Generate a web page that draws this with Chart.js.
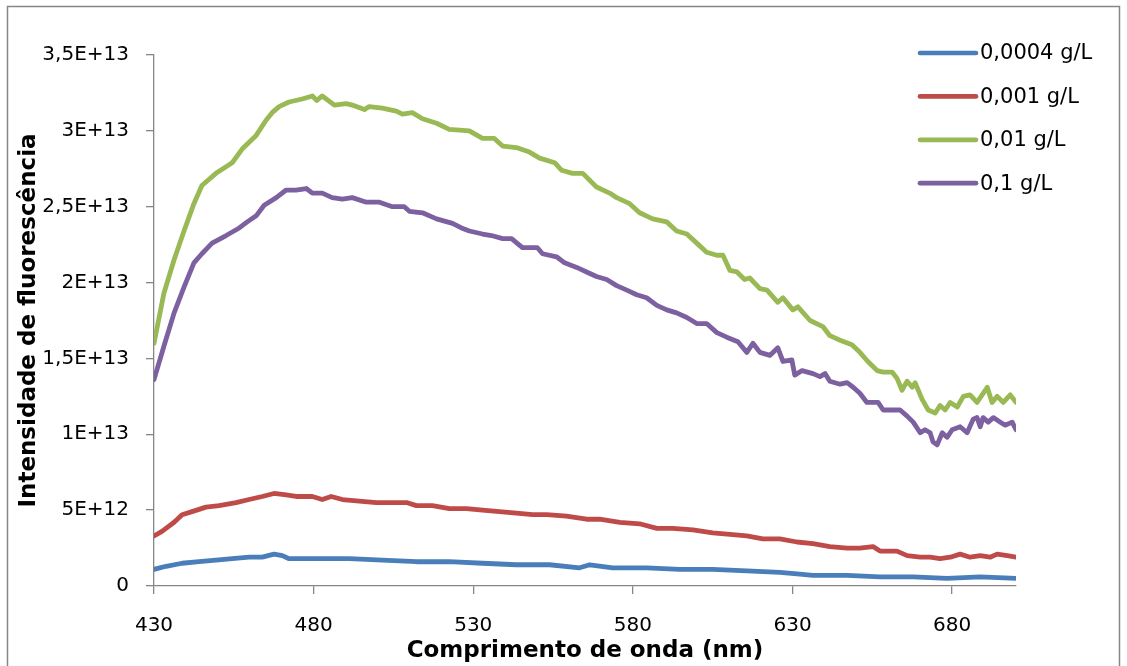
<!DOCTYPE html>
<html>
<head>
<meta charset="utf-8">
<script src="https://cdn.jsdelivr.net/npm/chart.js@4.4.1/dist/chart.umd.min.js"></script>
<style>
  html, body { margin: 0; padding: 0; background: #ffffff; }
  #wrap { width: 1127px; height: 666px; }
</style>
</head>
<body>
<div id="wrap"><canvas id="c" width="1127" height="666"></canvas></div>
<script>
// Fluorescence emission spectra at four concentrations.
// Intensities are stored in units of 1E+13.
const SCALE = 1e13;

const seriesNames = ['0,0004 g/L', '0,001 g/L', '0,01 g/L', '0,1 g/L'];
const seriesColors = ['#4A7EBB', '#BE4B48', '#98B954', '#7D60A0'];

// 0,0004 g/L
const wlA = [430, 433.8, 438.8, 444.1, 449.4, 454.5, 459.8, 463.9, 467.6, 470.2, 472.3, 478.6, 484, 491.2,
  501.5, 512.2, 522.5, 532.9, 543.5, 553.9, 563.3, 566.5, 573.7, 584.3, 594.7, 605, 615.7, 626, 631.4,
  636.4, 647.1, 657.4, 667.8, 678.4, 688.8, 700];
const valA = [0.11, 0.13, 0.15, 0.16, 0.17, 0.18, 0.19, 0.19, 0.21, 0.20, 0.18, 0.18, 0.18, 0.18,
  0.17, 0.16, 0.16, 0.15, 0.14, 0.14, 0.12, 0.14, 0.12, 0.12, 0.11, 0.11, 0.10, 0.09, 0.08,
  0.07, 0.07, 0.06, 0.06, 0.05, 0.06, 0.05];

// 0,001 g/L
const wlB = [430, 432.5, 436.3, 438.8, 441.9, 446.3, 450.4, 455.7, 459.8, 463.9, 467.6, 471.4, 474.5, 479.6,
  482.7, 485.5, 489, 494.3, 499.6, 503.7, 509.1, 512.2, 517.2, 522.5, 527.9, 532.9, 538.2, 543.5, 548.6,
  553, 559.2, 565.5, 569.6, 575.9, 582.1, 587.5, 592.5, 598.8, 605, 610.4, 615.7, 620.7, 626, 631.4,
  636.4, 641.7, 647.1, 651.1, 655.2, 657.4, 662.7, 665.9, 670, 673.1, 676.2, 679.4, 682.5, 685.6,
  688.8, 691.9, 694.1, 697.3, 700];
const valB = [0.33, 0.36, 0.42, 0.47, 0.49, 0.52, 0.53, 0.55, 0.57, 0.59, 0.61, 0.60, 0.59, 0.59,
  0.57, 0.59, 0.57, 0.56, 0.55, 0.55, 0.55, 0.53, 0.53, 0.51, 0.51, 0.50, 0.49, 0.48, 0.47,
  0.47, 0.46, 0.44, 0.44, 0.42, 0.41, 0.38, 0.38, 0.37, 0.35, 0.34, 0.33, 0.31, 0.31, 0.29,
  0.28, 0.26, 0.25, 0.25, 0.26, 0.23, 0.23, 0.20, 0.19, 0.19, 0.18, 0.19, 0.21, 0.19,
  0.20, 0.19, 0.21, 0.20, 0.19];

// 0,01 g/L
const wlC = [430, 433.1, 436.3, 439.4, 442.5, 445, 449.4, 454.5, 457.6, 462, 465.1, 467, 469.2, 472.3,
  476.4, 479.6, 481, 482.7, 486.5, 490.2, 492.1, 495.9, 497.4, 501.5, 505.9, 507.8, 510.9, 514.1,
  518.5, 522.5, 528.8, 532.9, 536.6, 539.2, 543.5, 547.6, 550.8, 555.5, 557.7, 561.1, 564.3, 568.6,
  572.7, 574.9, 579, 582.1, 586.2, 590.6, 593.7, 596.9, 600, 603.1, 606.3, 608.2, 610.4, 612.6,
  615, 616.6, 619.8, 622, 625.4, 627, 630.1, 631.7, 635.5, 639.5, 641.7, 644.9, 648.6, 651.1,
  653.6, 656.5, 658.4, 661.2, 662.7, 664.3, 665.9, 667.5, 668.4, 670.6, 672.5, 674.7, 676.2,
  677.8, 679.4, 681.6, 683.5, 685.6, 687.8, 689.4, 691, 692.5, 694.1, 696, 698.2, 700];
const valC = [1.60, 1.93, 2.15, 2.34, 2.52, 2.64, 2.72, 2.79, 2.88, 2.97, 3.07, 3.12, 3.16, 3.19,
  3.21, 3.23, 3.20, 3.23, 3.17, 3.18, 3.17, 3.14, 3.16, 3.15, 3.13, 3.11, 3.12, 3.08,
  3.05, 3.01, 3.00, 2.95, 2.95, 2.90, 2.89, 2.86, 2.82, 2.79, 2.74, 2.72, 2.72, 2.63,
  2.59, 2.56, 2.52, 2.46, 2.42, 2.40, 2.34, 2.32, 2.26, 2.20, 2.18, 2.18, 2.08, 2.07,
  2.02, 2.03, 1.96, 1.95, 1.87, 1.90, 1.82, 1.84, 1.75, 1.71, 1.65, 1.62, 1.59, 1.54,
  1.48, 1.42, 1.41, 1.41, 1.37, 1.29, 1.35, 1.31, 1.34, 1.23, 1.16, 1.14, 1.19,
  1.16, 1.21, 1.18, 1.25, 1.26, 1.21, 1.26, 1.31, 1.21, 1.25, 1.21, 1.26, 1.21];

// 0,1 g/L
const wlD = [430, 433.1, 436.3, 439.4, 442.5, 445, 448.2, 452.6, 456.7, 459.2, 462, 464.5, 468.3, 471.4,
  474.5, 477.7, 479.6, 482.7, 485.8, 489, 492.1, 496.5, 500.6, 504.7, 508.4, 510, 514.1, 518.5,
  523.5, 526.3, 528.8, 532.9, 535.7, 539.2, 542, 545.4, 550.1, 551.7, 556.1, 558.6, 562.4, 565.5,
  568.6, 571.8, 574.9, 578.1, 581.2, 584.3, 587.5, 590.6, 593.7, 596.9, 600, 603.1, 606.3, 609.4,
  612.9, 615.7, 617.6, 619.8, 622.9, 625.4, 627, 629.8, 630.7, 633, 636.4, 638.6, 640.2, 641.7,
  644.9, 647.1, 649, 651.1, 653.3, 655.2, 656.8, 658.4, 661.5, 663.7, 665.9, 667.8, 670, 671.5,
  673.1, 674, 675.3, 676.9, 678.4, 680, 682.5, 684.7, 686.6, 687.8, 688.8, 689.7, 691.3, 692.9,
  695.1, 696.6, 698.8, 700];
const valD = [1.36, 1.58, 1.80, 1.97, 2.13, 2.19, 2.26, 2.31, 2.36, 2.40, 2.44, 2.51, 2.56, 2.61,
  2.61, 2.62, 2.59, 2.59, 2.56, 2.55, 2.56, 2.53, 2.53, 2.50, 2.50, 2.47, 2.46, 2.42,
  2.39, 2.36, 2.34, 2.32, 2.31, 2.29, 2.29, 2.23, 2.23, 2.19, 2.17, 2.13, 2.10, 2.07,
  2.04, 2.02, 1.98, 1.95, 1.92, 1.90, 1.85, 1.82, 1.80, 1.77, 1.73, 1.73, 1.67, 1.64,
  1.61, 1.54, 1.60, 1.54, 1.52, 1.57, 1.48, 1.49, 1.39, 1.42, 1.40, 1.38, 1.40, 1.35,
  1.33, 1.34, 1.31, 1.27, 1.21, 1.21, 1.21, 1.16, 1.16, 1.16, 1.12, 1.08, 1.01, 1.03,
  1.01, 0.95, 0.93, 1.01, 0.98, 1.03, 1.05, 1.01, 1.10, 1.11, 1.05, 1.11, 1.08, 1.11,
  1.08, 1.06, 1.08, 1.03];

const xTicks = [430, 480, 530, 580, 630, 680];
const yTicks = [0, 5e12, 1e13, 1.5e13, 2e13, 2.5e13, 3e13, 3.5e13];
const yTickLabels = ['0', '5E+12', '1E+13', '1,5E+13', '2E+13', '2,5E+13', '3E+13', '3,5E+13'];

const xTitle = 'Comprimento de onda (nm)';
const yTitle = 'Intensidade de fluorescência';

const wavelengths = [wlA, wlB, wlC, wlD];
const intensities = [valA, valB, valC, valD];

const AXIS_GREY = '#868686';
const TICK_FONT = { family: 'DejaVu Sans', size: 20 };
const TITLE_FONT = { family: 'DejaVu Sans', size: 23, weight: 'bold' };

const datasets = seriesNames.map((name, k) => ({
  label: name,
  data: wavelengths[k].map((x, i) => ({ x: x, y: intensities[k][i] * SCALE })),
  borderColor: seriesColors[k],
  backgroundColor: seriesColors[k],
  borderWidth: 4.8,
  borderJoinStyle: 'round',
  borderCapStyle: 'round',
  pointRadius: 0,
  pointHoverRadius: 0,
  tension: 0,
  fill: false
}));

// Outer frame of the chart
const framePlugin = {
  id: 'frame',
  beforeDraw(chart) {
    const ctx = chart.ctx;
    ctx.save();
    ctx.fillStyle = '#ffffff';
    ctx.fillRect(0, 0, chart.width, chart.height);
    ctx.strokeStyle = AXIS_GREY;
    ctx.lineWidth = 1.5;
    ctx.beginPath();
    ctx.moveTo(7.5, chart.height + 2);
    ctx.lineTo(7.5, 6.5);
    ctx.lineTo(1119.5, 6.5);
    ctx.lineTo(1119.5, chart.height + 2);
    ctx.stroke();
    ctx.restore();
  }
};

// Legend placed in the upper right, overlapping the plot area
const sideLegend = {
  id: 'sideLegend',
  afterDraw(chart) {
    const ctx = chart.ctx;
    const x0 = 920, x1 = 976, textX = 980, rowTop = 53, rowStep = 43.4;
    ctx.save();
    ctx.font = '21px "DejaVu Sans"';
    ctx.textBaseline = 'middle';
    ctx.textAlign = 'left';
    chart.data.datasets.forEach((ds, i) => {
      const y = rowTop + i * rowStep;
      ctx.strokeStyle = ds.borderColor;
      ctx.lineWidth = 4.7;
      ctx.lineCap = 'round';
      ctx.beginPath();
      ctx.moveTo(x0, y);
      ctx.lineTo(x1, y);
      ctx.stroke();
      ctx.fillStyle = '#000000';
      ctx.fillText(ds.label, textX, y + 1);
    });
    ctx.restore();
  }
};

new Chart(document.getElementById('c'), {
  type: 'line',
  data: { datasets: datasets },
  options: {
    responsive: false,
    animation: false,
    devicePixelRatio: 1,
    layout: { padding: { top: 55, right: 111, left: 0, bottom: 0 } },
    plugins: {
      legend: { display: false },
      tooltip: { enabled: false },
      title: { display: false }
    },
    scales: {
      x: {
        type: 'linear',
        min: 430,
        max: 700,
        afterBuildTicks: (s) => { s.ticks = xTicks.map(v => ({ value: v })); },
        afterFit: (s) => { s.height = 80; },
        ticks: {
          font: TICK_FONT,
          color: '#000000',
          padding: 20,
          maxRotation: 0,
          autoSkip: false,
          callback: (v) => String(v)
        },
        grid: {
          display: true,
          drawOnChartArea: false,
          drawTicks: true,
          tickLength: 8,
          color: AXIS_GREY,
          tickColor: AXIS_GREY,
          lineWidth: 1.3
        },
        border: { display: true, color: AXIS_GREY, width: 1.3 },
        title: {
          display: true,
          text: xTitle,
          font: TITLE_FONT,
          color: '#000000',
          padding: { top: 0, bottom: 1 }
        }
      },
      y: {
        type: 'linear',
        min: 0,
        max: 3.5e13,
        afterBuildTicks: (s) => { s.ticks = yTicks.map(v => ({ value: v })); },
        afterFit: (s) => { s.width = 154; },
        ticks: {
          font: TICK_FONT,
          color: '#000000',
          padding: 17,
          callback: (v, i) => yTickLabels[i]
        },
        grid: {
          display: true,
          drawOnChartArea: false,
          drawTicks: true,
          tickLength: 8,
          color: AXIS_GREY,
          tickColor: AXIS_GREY,
          lineWidth: 1.3
        },
        border: { display: true, color: AXIS_GREY, width: 1.3 },
        title: {
          display: true,
          text: yTitle,
          font: TITLE_FONT,
          color: '#000000',
          padding: { top: 15, bottom: 0 }
        }
      }
    }
  },
  plugins: [framePlugin, sideLegend]
});
</script>
</body>
</html>
